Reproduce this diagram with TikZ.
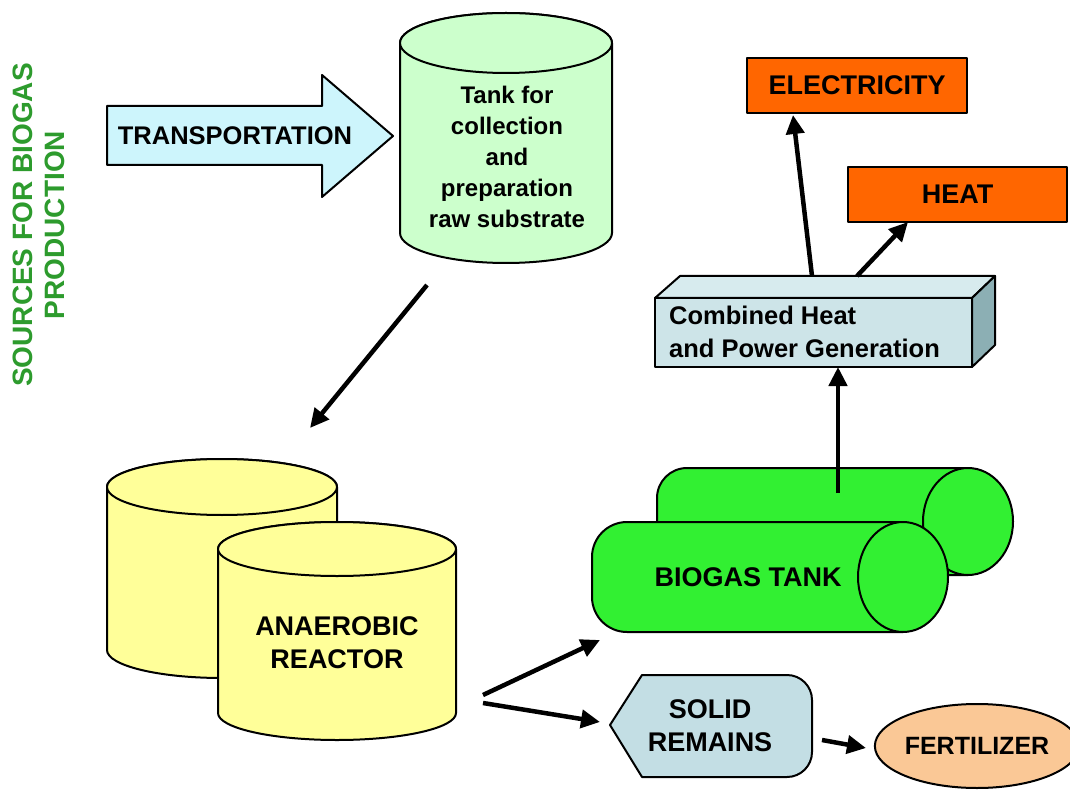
\documentclass[tikz,border=0pt]{standalone}
\usepackage{fontspec}
\setmainfont{Liberation Sans}
\usetikzlibrary{arrows.meta,shapes.geometric}
\definecolor{srcgreen}{RGB}{45,155,45}
\definecolor{transfill}{RGB}{205,245,252}
\definecolor{tankfill}{RGB}{204,255,204}
\definecolor{reactfill}{RGB}{255,255,153}
\definecolor{gasfill}{RGB}{50,240,50}
\definecolor{chpfront}{RGB}{205,228,232}
\definecolor{chptop}{RGB}{215,235,238}
\definecolor{chpside}{RGB}{140,175,180}
\definecolor{outfill}{RGB}{255,102,0}
\definecolor{solidfill}{RGB}{195,222,228}
\definecolor{fertfill}{RGB}{250,200,150}
\newcommand{\vcylinder}[6]{%
  \filldraw[fill=#6, outline] ({#1-#2},{-#3}) -- ({#1-#2},{-#4})
    arc[start angle=180,end angle=360,x radius=#2pt,y radius=#5pt]
    -- ({#1+#2},{-#3})
    arc[start angle=0,end angle=180,x radius=#2pt,y radius=#5pt] -- cycle;
  \filldraw[fill=#6, outline] (#1,{-#3}) ellipse[x radius=#2pt,y radius=#5pt];
}
\tikzset{
  outline/.style={draw=black, line width=2pt, line join=round},
  flow/.style={line width=4.5pt, -{Triangle[length=19pt,width=18pt]}},
  lbl/.style={font=\bfseries\fontsize{27}{33}\selectfont, align=center, inner sep=0pt},
  outbox/.style={outline, fill=outfill, minimum width=220pt, minimum height=55pt, lbl}
}
\begin{document}
\begin{tikzpicture}[x=1pt,y=1pt]
\useasboundingbox[fill=white] (0,0) rectangle (1070,-791);

% side title
\node[lbl, rotate=90, text=srcgreen, font=\bfseries\fontsize{28}{32}\selectfont] (sources) at (39,-225) {SOURCES FOR BIOGAS\\PRODUCTION};

% transportation arrow
\filldraw[outline, fill=transfill] (107,-106) -- (322,-106) -- (322,-75) -- (393,-136)
  -- (322,-197) -- (322,-165) -- (107,-165) -- cycle;
\node[lbl, font=\bfseries\fontsize{25.5}{29}\selectfont] (transport) at (235,-136) {TRANSPORTATION};

% collection tank
\vcylinder{506}{106}{43}{233}{30}{tankfill}
\node[lbl, font=\bfseries\fontsize{24}{31}\selectfont] (tank) at (507,-157) {Tank for\\collection\\and\\preparation\\raw substrate};

% anaerobic reactors
\vcylinder{222}{115}{487}{650}{28}{reactfill}
\vcylinder{337}{119}{549}{713}{27}{reactfill}
\node[lbl] (reactor) at (337,-643) {ANAEROBIC\\REACTOR};

% biogas tanks
\filldraw[outline, fill=gasfill] (968,-468) -- (687,-468)
  arc[start angle=90,end angle=180,radius=30pt] -- (657,-545)
  arc[start angle=180,end angle=270,radius=30pt] -- (968,-575) -- cycle;
\filldraw[outline, fill=gasfill] (968,-521.5) ellipse[x radius=45pt,y radius=53.5pt];
\filldraw[outline, fill=gasfill] (903,-522) -- (627,-522)
  arc[start angle=90,end angle=180,radius=35pt] -- (592,-597)
  arc[start angle=180,end angle=270,radius=35pt] -- (903,-632) -- cycle;
\filldraw[outline, fill=gasfill] (903,-577) ellipse[x radius=45pt,y radius=55pt];
\node[lbl] (biogas) at (748,-577) {BIOGAS TANK};

% CHP cuboid
\filldraw[outline, fill=chptop] (655,-298) -- (680,-276) -- (995,-276) -- (972,-298) -- cycle;
\filldraw[outline, fill=chpside] (972,-298) -- (995,-276) -- (995,-345) -- (972,-367) -- cycle;
\node[outline, fill=chpfront, minimum width=317pt, minimum height=69pt, inner sep=0pt] (chp) at (813.5,-332.5) {};
\node[lbl, align=left, anchor=west, font=\bfseries\fontsize{25.5}{33}\selectfont] (chptext) at (669,-332) {Combined Heat\\and Power Generation};

% outputs
\node[outbox] (elec) at (857,-85.5) {ELECTRICITY};
\node[outbox, minimum width=219pt] (heat) at (957.5,-194.5) {HEAT};

% solid remains
\filldraw[outline, fill=solidfill] (610,-725) -- (642,-675) -- (787,-675)
  arc[start angle=90,end angle=0,radius=25pt] -- (812,-752)
  arc[start angle=0,end angle=-90,radius=25pt] -- (642,-777) -- cycle;
\node[lbl] (solid) at (710,-726) {SOLID\\REMAINS};

% fertilizer
\node[outline, ellipse, fill=fertfill, minimum width=186pt, minimum height=84pt, inner sep=0pt,
  lbl, font=\bfseries\fontsize{25}{29}\selectfont] (fert) at (977,-746) {FERTILIZER};

% connector end points
\coordinate (tankout) at (427,-285);
\coordinate (reactorin) at (310,-428);
\coordinate (reactout1) at (483,-695);
\coordinate (gasin) at (600,-640);
\coordinate (reactout2) at (483,-703);
\coordinate (solidin) at (600,-722);
\coordinate (solidout) at (822,-740);
\coordinate (fertin) at (866,-748);
\coordinate (gasout) at (838,-493);
\coordinate (chpin) at (838,-367);
\coordinate (chpout1) at (812,-276);
\coordinate (elecin) at (793,-115);
\coordinate (chpout2) at (857,-276);
\coordinate (heatin) at (908,-222);

% connectors
\draw[flow] (tankout) -- (reactorin);
\draw[flow] (reactout1) -- (gasin);
\draw[flow] (reactout2) -- (solidin);
\draw[flow] (solidout) -- (fertin);
\draw[flow] (gasout) -- (chpin);
\draw[flow] (chpout1) -- (elecin);
\draw[flow] (chpout2) -- (heatin);
\end{tikzpicture}
\end{document}
